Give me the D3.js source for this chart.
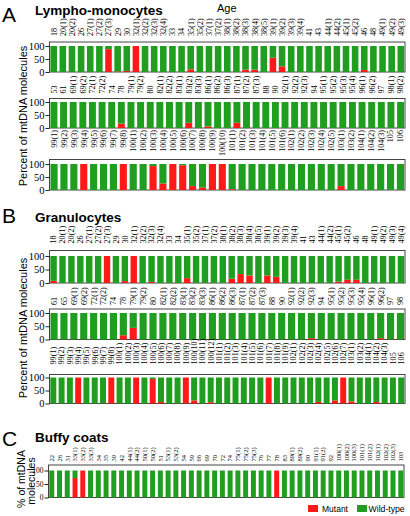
<!DOCTYPE html>
<html><head><meta charset="utf-8">
<script src="https://cdn.jsdelivr.net/npm/d3@7"></script>
<style>body{margin:0;background:#fff}svg{display:block}</style>
</head><body><svg id="c" width="410" height="516"></svg>
<script>
// ---------- DATA (percent mutant; wild-type = 100 - mutant) ----------
const aRow1Labels = ["18","20(1)","20(2)","26","27(1)","27(2)","27(3)","29","30","32(1)","32(2)","32(3)","32(4)","33","34","35(1)","35(2)","37(1)","37(2)","38(1)","38(2)","38(3)","38(4)","38(5)","39(1)","39(2)","39(3)","39(4)","41","43","44(1)","44(2)","45(1)","45(2)","46","48","49(1)","49(2)","49(3)"];
const aRow1Mutant = [0,0,0,0,0,0,88,2,4,100,0,0,0,0,0,10,0,0,0,0,0,9,9,0,55,22,0,0,0,0,0,0,0,0,8,0,0,0,0];

const aRow2Labels = ["53","61","69(1)","69(2)","72(1)","72(2)","74","78","79(1)","79(2)","80","82(1)","82(2)","83(1)","83(2)","83(3)","86(1)","86(2)","86(3)","87(1)","87(2)","87(3)","88","90","92(1)","92(2)","92(3)","94","95(1)","95(2)","95(3)","95(4)","96(1)","96(2)","97","98(1)","98(2)"];
const aRow2Mutant = [0,0,0,0,0,0,0,17,0,0,0,0,0,0,20,0,6,0,0,20,0,0,0,0,0,0,0,0,0,0,0,0,0,0,0,0,0];

const aRow3Labels = ["99(1)","99(2)","99(3)","99(4)","99(5)","99(6)","99(7)","99(8)","100(1)","100(2)","100(3)","100(4)","100(5)","100(6)","100(7)","100(8)","100(9)","100(10)","101(1)","101(2)","101(3)","101(4)","101(5)","101(6)","102(1)","102(2)","102(3)","102(4)","102(5)","103(1)","103(2)","104(1)","104(2)","104(3)","105","106"];
const aRow3Mutant = [0,0,0,100,0,0,0,100,0,0,92,25,100,95,15,10,100,100,3,0,0,0,0,0,0,0,0,0,0,15,0,0,0,0,0,0];

const bRow1Labels = ["18","20(1)","20(2)","26","27(1)","27(2)","27(3)","29","30","32(1)","32(2)","32(3)","32(4)","33","34","35(1)","35(2)","37(1)","37(2)","38(1)","38(2)","38(3)","38(4)","38(5)","39(1)","39(2)","39(3)","39(4)","41","43","44(1)","44(2)","45(1)","45(2)","46","48","49(1)","49(2)","49(3)","49(4)"];
const bRow1Mutant = [8,0,0,0,0,0,100,0,7,100,0,4,0,0,0,18,0,0,0,0,16,33,28,0,28,23,0,0,0,0,0,0,5,12,12,0,0,0,0,0];

const bRow2Labels = ["61","65","69(1)","69(2)","72(1)","72(2)","74","78","79(1)","79(2)","80","82(1)","82(2)","83(1)","83(2)","83(3)","86(1)","86(2)","86(3)","87(1)","87(2)","87(3)","88","90","92(1)","92(2)","92(3)","94","95(1)","95(2)","95(3)","95(4)","96(1)","96(2)","97","98"];
const bRow2Mutant = [0,0,0,0,0,0,0,16,44,0,0,0,0,0,0,0,0,0,0,0,0,0,0,0,0,0,5,0,0,0,0,0,0,5,0,0];

const bRow3Labels = ["99(1)","99(2)","99(3)","99(4)","99(5)","99(6)","99(7)","99(8)","100(1)","100(2)","100(3)","100(4)","100(5)","100(6)","100(7)","100(8)","100(9)","100(10)","100(11)","100(12)","101(1)","101(2)","101(3)","101(4)","101(5)","101(6)","101(7)","101(8)","101(9)","102(1)","102(2)","102(3)","102(4)","102(5)","102(6)","102(7)","103(1)","103(2)","104(1)","104(2)","104(3)","105","106"];
const bRow3Mutant = [0,0,0,100,0,0,0,100,0,0,100,0,94,6,0,0,100,12,0,5,0,0,0,0,0,0,100,0,0,0,0,0,6,0,12,100,8,0,0,6,0,0,0];

const cLabels = ["22","26","31","33(1)","33(2)","33(3)","34","35","39","42","44(1)","44(2)","50(1)","50(2)","51","53(1)","53(2)","54","59","66","69","70","72","74","75(1)","75(2)","75(3)","76","77","78","83","89(1)","89(2)","90","91(1)","91(2)","92","100(1)","100(2)","100(3)","101(1)","101(2)","102(1)","102(2)","102(3)","103"];
const cMutant = [0,0,0,72,100,0,0,0,0,0,0,0,0,0,0,0,0,0,0,0,0,0,0,0,0,0,0,0,0,100,0,0,0,0,0,0,0,0,0,0,0,0,0,0,0,0];

const seriesKeys = ["Mutant","Wild-type"];
const yTicks = [0,50,100];

// ---------- DRAWING ----------
const svg = d3.select("#c");
const SANS = "'Liberation Sans', Arial, sans-serif";
const SERIF = "'Liberation Serif', 'Times New Roman', serif";
const COLORS = {"Mutant":"#ff1a1a","Wild-type":"#1f9e1f"};

function drawRow(labels, mutant, L) {
  const g = svg.append("g");
  const x = d3.scaleBand().domain(labels.map((d,i)=>i)).range([L.x0, L.x1])
    .paddingInner(L.pad).paddingOuter(0.1);
  const y = d3.scaleLinear().domain([0,100]).range([L.y0, L.y100]);
  const rows = labels.map((l,i)=>({i, "Mutant": mutant[i], "Wild-type": 100-mutant[i]}));
  const stacked = d3.stack().keys(seriesKeys)(rows);
  g.append("rect").attr("x", L.x0).attr("y", L.top).attr("width", L.x1-L.x0)
    .attr("height", L.y0-L.top).attr("fill","none").attr("stroke","#444").attr("stroke-width",1);
  stacked.forEach(s => {
    g.append("g").attr("fill", COLORS[s.key]).selectAll("rect").data(s).join("rect")
      .attr("x", d=>x(d.data.i)).attr("width", x.bandwidth())
      .attr("y", d=>y(d[1])).attr("height", d=>Math.max(0, y(d[0])-y(d[1])));
  });
  const ax = g.append("g").attr("transform",`translate(${L.x0},0)`)
    .call(d3.axisLeft(y).tickValues(yTicks).tickSize(4).tickPadding(1));
  ax.select(".domain").remove();
  ax.selectAll("line").attr("stroke","#222");
  ax.selectAll("text").attr("font-family",SERIF).attr("font-size",L.tickFs).attr("fill","#000");
  g.append("g").selectAll("text").data(labels).join("text")
    .attr("transform",(d,i)=>`translate(${x(i)+x.bandwidth()/2 + L.labFs*0.35},${L.labY}) rotate(-90)`)
    .attr("text-anchor", L.labAnchor)
    .attr("font-family",SERIF).attr("font-size",L.labFs).attr("fill","#000").text(d=>d);
}

const base = {x0:49.5, x1:405, pad:0.28, tickFs:10.5, labFs:8.2, labAnchor:"start"};
drawRow(aRow1Labels, aRow1Mutant, {...base, top:42, y100:46, y0:72, labY:36});
drawRow(aRow2Labels, aRow2Mutant, {...base, top:98.5, y100:102, y0:128, labY:93.5});
drawRow(aRow3Labels, aRow3Mutant, {...base, top:159.5, y100:164, y0:190, labY:130, labAnchor:"end"});
drawRow(bRow1Labels, bRow1Mutant, {...base, top:250.5, y100:256, y0:283, labY:243.5});
drawRow(bRow2Labels, bRow2Mutant, {...base, top:309, y100:313, y0:339.5, labY:305});
drawRow(bRow3Labels, bRow3Mutant, {...base, top:374.5, y100:377.5, y0:403.5, labY:364.5});
drawRow(cLabels, cMutant, {...base, x0:48.5, x1:404, pad:0.36, tickFs:7.5, labFs:6.5, top:465, y100:470.5, y0:497.5, labY:461.5});

function txt(x, y, s, fs, opts={}) {
  const t = svg.append("text").attr("x",x).attr("y",y).attr("font-family",opts.family||SANS)
    .attr("font-size",fs).attr("fill","#000").text(s);
  if (opts.bold) t.attr("font-weight","bold");
  if (opts.rotate) t.attr("transform",`rotate(-90,${x},${y})`).attr("text-anchor","middle");
  return t;
}
txt(2, 22, "A", 21);
txt(35, 15, "Lympho-monocytes", 13.5, {bold:true});
txt(217, 12, "Age", 11);
txt(2, 223, "B", 21);
txt(35, 222, "Granulocytes", 13.5, {bold:true});
txt(2, 446, "C", 21);
txt(35, 442, "Buffy coats", 13.5, {bold:true});

txt(26.5, 116, "Percent of mtDNA molecules", 11, {rotate:true});
txt(26.5, 328, "Percent of mtDNA molecules", 11, {rotate:true});
txt(25, 479, "% of mtDNA", 10.5, {rotate:true});
txt(34.5, 481, "molecules", 10.5, {rotate:true});

// legend
const leg = svg.append("g");
const legPos = [{k:"Mutant", rx:308, tx:322, fs:8.5}, {k:"Wild-type", rx:357, tx:368.5, fs:8.7}];
legPos.forEach(p => {
  leg.append("rect").attr("x",p.rx).attr("y",505).attr("width",10).attr("height",7).attr("fill",COLORS[p.k]);
  leg.append("text").attr("x",p.tx).attr("y",512).attr("font-family",SANS).attr("font-size",p.fs).text(p.k);
});
</script></body></html>
